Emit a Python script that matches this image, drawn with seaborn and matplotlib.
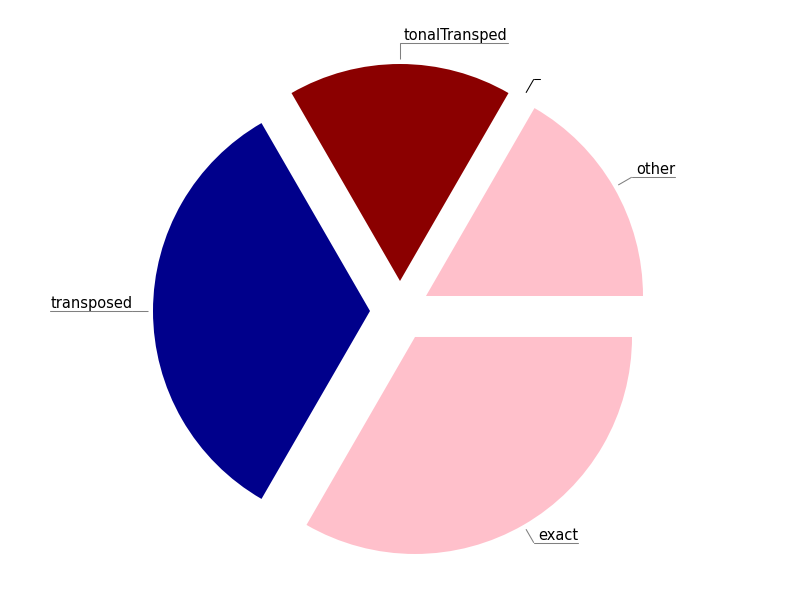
import numpy as np
import matplotlib
matplotlib.use("Agg")
import matplotlib.pyplot as plt
import seaborn as sns

sns.set_style("white")
plt.rcParams['font.family'] = ['DejaVu Sans']

labels = ["other", "", "tonalTransped", "transposed", "exact"]
values = [1, 0, 1, 2, 2]
colors = ["#FFC0CB", "#000000", "#8B0000", "#00008B", "#FFC0CB"]
line_colors = ["#808080", "#000000", "#808080", "#808080", "#808080"]

R_PX = 217.0
XL = (-400 / R_PX, 400 / R_PX)
YL = (-289 / R_PX, 311 / R_PX)
fig = plt.figure(figsize=(8, 6), dpi=100)
ax = fig.add_axes([0, 0, 1, 1])
ax.axis("off")

explode_amt = 30 / R_PX
wedges, _ = ax.pie(values, colors=colors, startangle=0, counterclock=True,
                   explode=[explode_amt] * len(values), radius=1.0,
                   wedgeprops=dict(linewidth=0))
ax.set_xlim(*XL)
ax.set_ylim(*YL)
ax.set_aspect("auto")

px = 1 / R_PX
items = []
for w, lab, lc in zip(wedges, labels, line_colors):
    ang = np.deg2rad((w.theta1 + w.theta2) / 2)
    cx, cy = w.center
    x0, y0 = cx + 1.023 * np.cos(ang), cy + 1.023 * np.sin(ang)
    x1, y1 = cx + 1.095 * np.cos(ang), cy + 1.095 * np.sin(ang)
    ax.plot([x0, x1], [y0, y1], color=lc, lw=0.75, solid_capstyle="butt")
    t = ax.text(x1, y1 + 3 * px, lab, fontsize=10.5, color="black",
                va="baseline", ha="left")
    items.append((t, ang, x1, y1, lc))

fig.canvas.draw()
renderer = fig.canvas.get_renderer()
for t, ang, x1, y1, lc in items:
    bb = t.get_window_extent(renderer)
    tw = (bb.x1 - bb.x0) * px if t.get_text() else 0.0
    if np.cos(ang) >= -1e-6:
        t.set_x(x1 + 4 * px)
        ext = tw + 4 * px if t.get_text() else 6 * px
        ax.plot([x1, x1 + ext], [y1, y1], color=lc, lw=0.75)
    else:
        xl = x1 - tw
        t.set_x(xl)
        ax.plot([xl, x1], [y1, y1], color=lc, lw=0.75)

fig.savefig("out.png", dpi=100)
